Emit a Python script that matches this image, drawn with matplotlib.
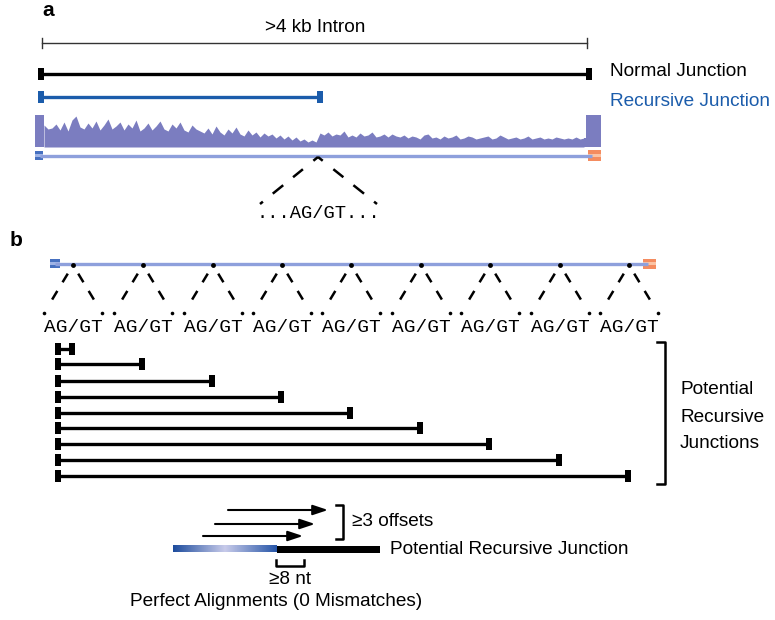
import numpy as np
import matplotlib
matplotlib.use('Agg')
import matplotlib.pyplot as plt
import matplotlib.patches as patches
from matplotlib.colors import LinearSegmentedColormap

plt.rcParams['font.family'] = ['Liberation Sans', 'DejaVu Sans']

# ---- data (page pixel coordinates) ----
# panel a: read coverage heights above baseline, every 4 px from x=44
cov_heights = [22, 18, 19, 23, 17, 25, 16, 27, 31, 20, 18, 24, 19, 26, 17, 22, 28, 18, 21, 25,
               17, 23, 19, 27, 16, 19, 24, 17, 21, 26, 18, 16, 23, 19, 25, 17, 15, 22, 18, 16,
               14, 19, 13, 21, 15, 12, 18, 14, 20, 13, 11, 17, 12, 15, 10, 14, 11, 13, 9, 12,
               8, 11, 7, 10, 6, 8, 5, 7, 5,
               14, 12, 15, 11, 13, 12, 16, 10, 12, 10, 14, 11, 12, 15, 10, 11, 13, 10, 13, 11, 10,
               12, 9, 11, 10, 8, 12, 13, 9, 10, 8, 11, 9, 10, 12, 8, 9, 11, 10, 8, 9, 10, 11, 8,
               9, 12, 10, 8, 9, 10, 8, 9, 11, 8, 9, 10, 8, 9, 8, 10, 9, 8, 9, 8, 10, 8, 9]
cov_start, cov_step = 44, 4
exon_cov = 32
intron_start, intron_end = 42, 587
recursive_site = 319

# panel b: candidate AG/GT sites and junction rows
sites = [73, 143, 213, 282, 351, 421, 490, 560, 629]
junction_rows = [349, 364, 381, 397, 413, 428, 444, 460, 476]
junction_left = 58

# ---- style ----
COV = '#7b7dc0'
GENE = '#8ea0dc'
EXON_L = '#4670c0'
EXON_R = '#f48c60'
RJ_BLUE = '#1b5cab'
FS = 13.7

fig = plt.figure(figsize=(7.75, 6.2), dpi=100)
ax = fig.add_axes([0, 0, 1, 1])


def exon(x0, x1, yc, h, col, stripe):
    ax.add_patch(patches.Rectangle((x0, yc - h / 2), x1 - x0, h, facecolor=col, edgecolor='none'))
    ax.add_patch(patches.Rectangle((x0, yc - h / 6), x1 - x0, h / 3, facecolor=stripe, edgecolor='none'))


def junction(x0, x1, y, col, lw=2.4, bw=6, bh=12):
    ax.plot([x0, x1], [y, y], color=col, lw=lw, solid_capstyle='butt')
    for xx in (x0, x1):
        ax.add_patch(patches.Rectangle((xx - bw / 2, y - bh / 2), bw, bh, facecolor=col, edgecolor='none'))


def dashed(p0, p1, spans, lw):
    for t0, t1 in spans:
        ax.plot([p0[0] + (p1[0] - p0[0]) * t0, p0[0] + (p1[0] - p0[0]) * t1],
                [p0[1] + (p1[1] - p0[1]) * t0, p0[1] + (p1[1] - p0[1]) * t1],
                color='black', lw=lw, solid_capstyle='butt')


# ================= panel a =================
ax.text(42, 10, 'a', fontsize=15, fontweight='bold', ha='left', va='center')
ax.text(315, 27, '>4 kb Intron', fontsize=FS, ha='center', va='center')
ax.plot([intron_start, intron_end], [43, 43], color='#333333', lw=1)
for xx in (intron_start, intron_end):
    ax.plot([xx, xx], [38, 48], color='#333333', lw=1)

junction(41, 589, 74, 'black', lw=2.4, bw=6, bh=12)
ax.text(610, 71, 'Normal Junction', fontsize=FS, ha='left', va='center')
junction(41, recursive_site + 1, 97, RJ_BLUE, lw=2.4, bw=6, bh=12)
ax.text(610, 102, 'Recursive Junction', fontsize=FS, ha='left', va='center', color=RJ_BLUE)

# coverage track
base = 147
xs = cov_start + cov_step * np.arange(len(cov_heights))
ax.fill_between(xs, base, base - np.array(cov_heights), color=COV, lw=0)
ax.add_patch(patches.Rectangle((35, base - exon_cov), cov_start - 35, exon_cov, facecolor=COV, edgecolor='none'))
ax.add_patch(patches.Rectangle((586, base - exon_cov), 601 - 586, exon_cov, facecolor=COV, edgecolor='none'))
ax.fill_between([xs[-1], 586], base, base - np.array([cov_heights[-1], cov_heights[-1]]), color=COV, lw=0)

# gene model
ax.plot([40, 592], [155.5, 155.5], color=GENE, lw=2.4, solid_capstyle='butt')
exon(35, 43, 155.5, 9, EXON_L, '#9fb4e6')
exon(588, 601, 155.5, 11, EXON_R, '#fbc3a4')

apex = (recursive_site - 1, 157)
a_spans = [(0, 0.08), (0.26, 0.43), (0.6, 0.78), (0.95, 1.0)]
dashed(apex, (260, 204), a_spans, 1.8)
dashed(apex, (377, 204), a_spans, 1.8)
ax.text(318, 214, '...AG/GT...', fontsize=13.5, family='Liberation Mono', ha='center', va='center')

# ================= panel b =================
ax.text(10, 240, 'b', fontsize=15, fontweight='bold', ha='left', va='center')
ax.plot([55, 648], [263.5, 263.5], color=GENE, lw=2.4, solid_capstyle='butt')
exon(50, 60, 263.5, 9, EXON_L, '#9fb4e6')
exon(643, 656, 263.5, 10, EXON_R, '#fbc3a4')

b_spans = [(0.18, 0.36), (0.54, 0.72)]
for s in sites:
    ax.plot(s, 265, 'o', color='black', ms=3.5, mec='none')
    for side in (-1, 1):
        end = (s + side * 29, 313)
        dashed((s, 265), end, b_spans, 1.8)
        ax.plot(end[0], end[1], 'o', color='black', ms=2.6, mec='none')
    ax.text(s, 327, 'AG/GT', fontsize=14, family='Liberation Mono', ha='center', va='center')

for s, y in zip(sites, junction_rows):
    junction(junction_left, s - 1, y, 'black', lw=2.4, bw=6, bh=12)

ax.plot([657, 665, 665, 657], [342, 342, 484, 484], color='black', lw=1.8)
for txt, y in zip(['Potential', 'Recursive', 'Junctions'], [390, 417, 444]):
    ax.text(680, y, txt, fontsize=FS, ha='left', va='center')

# read alignment schematic
for (x0, x1, y) in [(228, 328, 510), (215, 315, 524), (203, 303, 536)]:
    ax.annotate('', xy=(x1, y), xytext=(x0, y),
                arrowprops=dict(arrowstyle='-|>,head_length=0.9,head_width=0.3',
                                color='black', lw=1.5, shrinkA=0, shrinkB=0))
ax.plot([336, 343, 343, 336], [505, 505, 539, 539], color='black', lw=1.8)
ax.text(352, 522, '≥3 offsets', fontsize=FS, ha='left', va='center')

grad = LinearSegmentedColormap.from_list('g', [(0, '#1d4c9d'), (0.5, '#c8cbea'), (1, '#2756a8')])
ax.imshow(np.linspace(0, 1, 200)[None, :], cmap=grad, aspect='auto',
          extent=[173, 277, 552.5, 545.5], zorder=2)
ax.add_patch(patches.Rectangle((277, 545.5), 380 - 277, 7, facecolor='black', edgecolor='none', zorder=2))
ax.text(390, 549, 'Potential Recursive Junction', fontsize=FS, ha='left', va='center')

ax.plot([276, 276, 304, 304], [560, 566, 566, 560], color='black', lw=1.8)
ax.text(290, 580, '≥8 nt', fontsize=FS, ha='center', va='center')
ax.text(130, 602, 'Perfect Alignments (0 Mismatches)', fontsize=FS, ha='left', va='center')

ax.set_xlim(0, 775)
ax.set_ylim(620, 0)
ax.axis('off')
fig.savefig('out.png', dpi=100)
